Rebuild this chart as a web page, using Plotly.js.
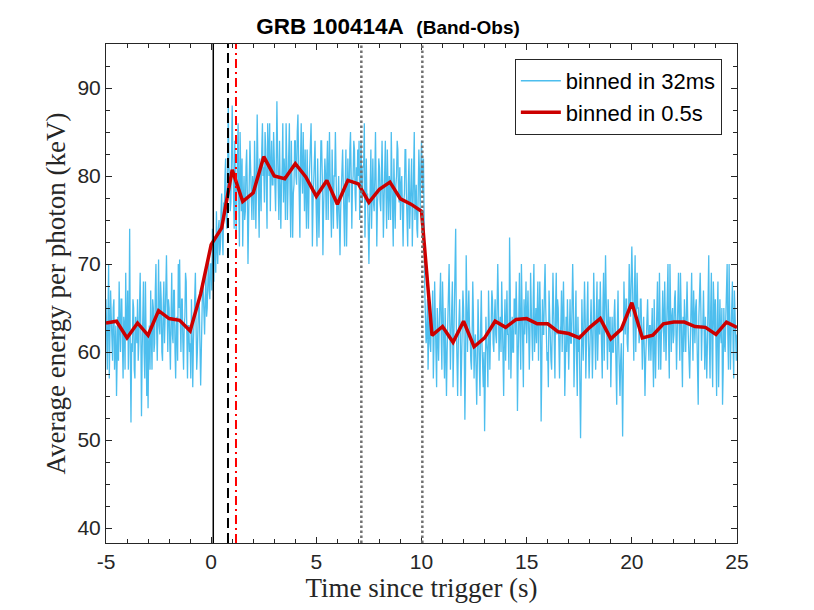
<!DOCTYPE html>
<html>
<head>
<meta charset="utf-8">
<script src="https://cdn.plot.ly/plotly-3.0.1.min.js"></script>
<style>html,body{margin:0;padding:0;background:#fff;}#chart{width:814px;height:610px;}</style>
</head>
<body>
<div id="chart"></div>
<script>
// fine binning (~32 ms), values read per 1/32 s
var fineStart = -5.0;
var fineStep = 0.03125;
var fineValues = [
66,61,58,64,70,57,61,67,64,60,59,65,66,58,62,63,
55,62,64,59,68,63,60,66,66,61,57,64,63,58,69,62,
62,67,58,63,74,60,52,61,60,66,65,58,57,64,63,61,
66,59,61,67,69,62,52.7,60,64,68,60,57,68,63,55,62,
53.6,61,63,58,67,62,58,66,65,60,61,67,70,63,59,64,
70.5,63,62,68,66,60,59,65,68,61,63,67,71,64,60,66,
65,61,58,64,69,62,61,67,67,60,57,63,64,59,70,65,
70.5,64,60,66,66,61,58,63,64,69,68,62,57,63,63,60,
61,57,66,62,56,61,64,68,69,63,58,60,62,66,65,59,
56.2,60,64,68,67,63,62,66,69,64,65,68,71,67,66,70,
70,67,74,71,68,72,73,69,76,72,70,74,75,71,72,76,
78,73,71,77,76,80,82,75,74,79,88.4,81,80,76,77,82,
88,82,79,74,84,80,73,78,81,86,77,72,85,79,76,82,
72,77,80,75,76,81,83,78,70,75,78,84,81,76,75,80,
79,75,84,80,74,79,87,82,77,73,82,78,76,83,86,80,
81,77,85,83,78,74,86,82,80,86,76,81,84,79,79,85,
82,78,76,81,88.5,83,79,75,84,80,74,79,81,86,77,82,
80,75,86,82,75,79,82,86,78,73,84,80,73,78,79,84,
84,80,79,85,87,82,77,73,82,86,80,78,85,81,76,83,
78,74,83,80,74,79,81,85,86,80,72,77,80,84,84,79,
76,72,82,78,73,77,79,84,84,80,71,76,78,82,80,75,
81,84,75,79,85,80,77,73,83,79,74,80,80,85,79,76,
74,78,80,75,71,76,78,82,83,79,75,72,79,83,72,77,
82,78,77,83,85,80,74,79,80,84,83,78,76,81,79,83,
80,84,75,79,84,78,77,81,81,86,73,78,82,77,78,74,
70,75,79,83,74,78,82,77,76,80,85,79,72,77,78,82,
81,77,76,80,84,79,73,77,80,84,78,74,83,79,75,80,
79,75,85,80,76,72,82,78,74,79,80,84,83,78,77,81,
75,79,80,76,72,77,78,83,83,78,76,72,79,82,74,78,
78,82,72,76,81,85,75,79,79,74,73,78,83,80,76,81,
84,80,78,82,70,67,64,61,62,66,58,63,66,61,60,64,
63,67,57,61,68,64,60,56,65,62,59,63,66,69,62,58,
68,64,60,57,65,61,55,60,63,67,70,64,58,62,64,68,
56,60,62,66,74,63,58,55,61,65,66,62,55,59,63,67,
65,61,52.3,58,71,66,60,64,67,63,62,59,58,62,68,64,
57,61,62,58,54,59,66,62,59,55,63,67,61,58,56,60,
51,57,64,61,60,56,67,63,58,62,63,67,66,61,60,64,
66,62,61,65,70,66,59,63,64,60,68,64,58,55,62,66,
59,63,67,62,62,58,73,67,57,61,64,60,60,66,66,62,
68,64,53.3,59,65,69,62,58,70,65,60,56,66,62,64,68,
61,65,67,63,58,62,69,65,63,59,66,70,60,64,65,61,
64,68,59,63,68,64,52.1,58,66,62,62,67,70,65,63,59,
60,56,67,63,63,59,58,62,69,65,61,57,65,69,62,66,
65,61,57,62,63,67,60,64,68,63,55,59,64,60,66,62,
58,62,66,61,61,65,70,66,56,60,63,67,59,55,64,60,
62,58,50.2,57,66,62,59,63,68,64,57,61,64,68,61,57,
60,64,66,62,57,61,69,65,62,58,64,68,59,63,66,62,
68,64,61,57,65,69,59,63,71,66,62,58,66,62,60,64,
56,60,64,60,60,64,66,62,58,54,63,67,61,57,55,59,
61,57,50.4,58,68,64,62,66,66,61,60,64,70,66,64,68,
72,68,63,59,67,71,60,64,69,65,65,61,62,66,66,62,
58,62,64,60,55,59,62,66,66,62,59,63,63,59,61,65,
60,56,66,62,57,61,64,68,62,58,69,65,58,62,63,67,
64,60,68,64,59,63,66,70,61,57,70,66,60,64,65,61,
62,66,67,63,58,62,65,69,63,59,69,65,60,56,64,60,
66,62,60,64,68,64,62,58,57,61,65,69,63,59,67,63,
61,65,66,62,58,54,64,68,69,65,59,63,63,67,62,58,
64,60,57,61,67,71,61,57,65,69,60,56,68,64,62,66,
59,55,64,68,56,60,66,62,61,65,54,58,65,61,60,64,
66,70,62,58,70,66,58,62,64,68,61,57,67,63,63,59,
62
];

// 0.5 s binning
var coarseStart = -5.0;
var coarseStep = 0.5;
var coarseValues = [
63.3,63.5,61.6,63.3,61.9,64.7,63.8,63.6,62.4,66.6,
72.2,74.1,80.7,77.1,78.1,82.2,80.0,79.7,81.4,79.9,
77.7,79.5,76.8,79.5,79.1,77.0,78.5,79.3,77.4,76.8,
76.0,61.9,62.9,61.1,63.5,60.6,61.6,63.5,62.8,63.7,
63.8,63.2,63.2,62.3,62.1,61.6,62.8,63.8,61.5,62.6,
65.6,61.6,61.9,63.2,63.4,63.4,62.9,62.8,62.0,63.4,
62.8
];

// marker times (s)
var markerTimes = [0.1, 0.8, 1.18, 7.14, 10.04];

var xTickVals = [-5, 0, 5, 10, 15, 20, 25];
var xTickText = ['-5', '0', '5', '10', '15', '20', '25'];
var yTickVals = [40, 50, 60, 70, 80, 90];
var yTickText = ['40', '50', '60', '70', '80', '90'];

var fineT = fineValues.map(function (v, i) { return fineStart + i * fineStep; });
var coarseT = coarseValues.map(function (v, i) { return coarseStart + i * coarseStep; });

var markerStyles = [
  {color: '#000000', width: 1.5, dash: 'solid'},
  {color: '#000000', width: 2, dash: '10px,5px'},
  {color: '#ff0000', width: 2, dash: '9px,4px,2px,4px'},
  {color: '#707070', width: 2.5, dash: '2.5px,2.5px'},
  {color: '#707070', width: 2.5, dash: '2.5px,2.5px'}
];
var shapes = markerTimes.map(function (t, i) {
  return {type: 'line', xref: 'x', yref: 'paper', x0: t, x1: t, y0: 0, y1: 1,
          line: markerStyles[i], layer: 'above'};
});

var traces = [
  {x: fineT, y: fineValues, type: 'scatter', mode: 'lines', name: 'binned in 32ms',
   line: {color: '#4DBEEE', width: 1.3}},
  {x: coarseT, y: coarseValues, type: 'scatter', mode: 'lines', name: 'binned in 0.5s',
   line: {color: '#CC0000', width: 3.5}}
];

var axisCommon = {
  showline: true, linecolor: '#262626', linewidth: 1, mirror: 'ticks',
  ticks: 'inside', ticklen: 6, tickwidth: 1, tickcolor: '#262626',
  showgrid: false, zeroline: false,
  tickfont: {family: 'Liberation Sans, Arial, sans-serif', size: 21, color: '#262626'}
};

var layout = {
  width: 814, height: 610,
  margin: {l: 106, r: 77, t: 44, b: 67, pad: 0},
  paper_bgcolor: '#ffffff', plot_bgcolor: '#ffffff',
  showlegend: true,
  title: {
    text: '<b>GRB 100414A</b>&nbsp;&nbsp;<b><span style="font-size:19px">(Band-Obs)</span></b>',
    font: {family: 'Liberation Sans, Arial, sans-serif', size: 22.5, color: '#000000'},
    xref: 'container', yref: 'container', x: 0.4767, xanchor: 'center', y: 0.957, yanchor: 'middle'
  },
  xaxis: Object.assign({}, axisCommon, {
    range: [-5, 25], tickmode: 'array', tickvals: xTickVals, ticktext: xTickText,
    minor: {dtick: 1, tick0: 0, ticks: 'inside', ticklen: 4, tickcolor: '#262626', showgrid: false},
    title: {text: 'Time since trigger (s)', standoff: 3,
            font: {family: 'Liberation Serif, Times New Roman, serif', size: 27, color: '#262626'}}
  }),
  yaxis: Object.assign({}, axisCommon, {
    range: [38.3, 95], tickmode: 'array', tickvals: yTickVals, ticktext: yTickText,
    minor: {dtick: 2.5, tick0: 0, ticks: 'inside', ticklen: 4, tickcolor: '#262626', showgrid: false},
    title: {text: 'Average energy per photon (keV)', standoff: 3,
            font: {family: 'Liberation Serif, Times New Roman, serif', size: 27, color: '#262626'}}
  }),
  legend: {
    x: 0.976, xanchor: 'right', y: 0.97, yanchor: 'top',
    bgcolor: '#ffffff', bordercolor: '#262626', borderwidth: 1,
    font: {family: 'Liberation Sans, Arial, sans-serif', size: 22, color: '#000000'},
    tracegroupgap: 0, itemwidth: 40
  },
  shapes: shapes
};

Plotly.newPlot('chart', traces, layout, {displayModeBar: false, staticPlot: true});
</script>
</body>
</html>
